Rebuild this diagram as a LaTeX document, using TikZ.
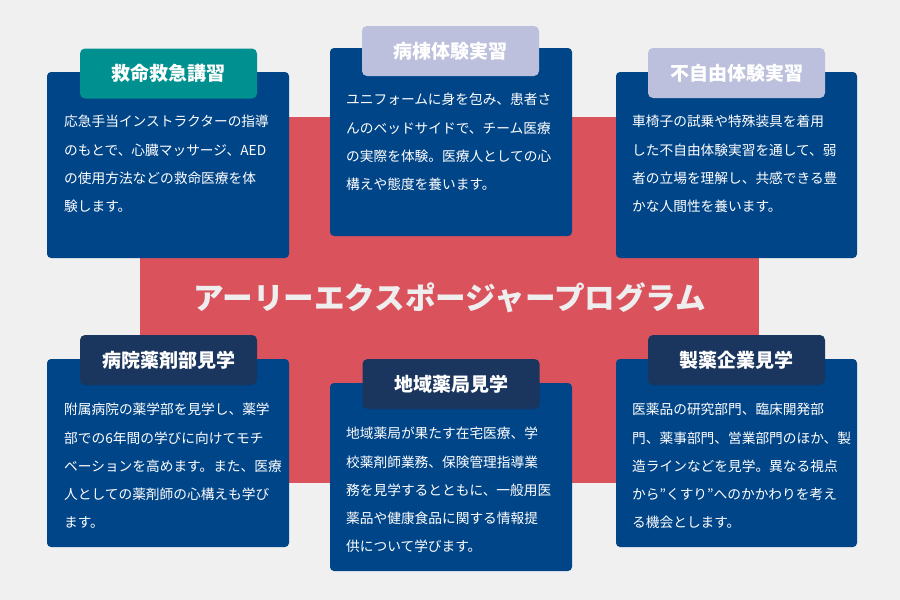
\documentclass[tikz,border=0pt]{standalone}
\usepackage{fontspec}
\setmainfont{Noto Sans CJK JP}
\definecolor{bgc}{RGB}{240,240,240}
\definecolor{redc}{RGB}{218,82,92}
\definecolor{cardc}{RGB}{0,69,136}
\definecolor{tealc}{RGB}{0,144,143}
\definecolor{lavc}{RGB}{188,192,220}
\definecolor{navyc}{RGB}{26,53,94}
\definecolor{titlec}{RGB}{238,238,238}
\tikzset{
  card/.style={fill=cardc, rounded corners=4pt, draw=none, minimum width=242pt, minimum height=188pt, inner sep=0pt},
  tabbox/.style={rounded corners=5pt, draw=none, minimum width=177pt, minimum height=50pt, inner sep=0pt, text=white, font=\fontsize{19}{19}\selectfont\bfseries},
  bodytext/.style={text=white, align=left, anchor=north west, inner sep=0pt, font=\fontsize{13.7}{28.3}\selectfont},
}
\begin{document}
\begin{tikzpicture}[x=1pt,y=-1pt]
\fill[bgc] (0,0) rectangle (900,600);
\useasboundingbox (0,0) rectangle (900,600);
\node[fill=redc, minimum width=619pt, minimum height=366pt, inner sep=0pt] (band) at (449.5,300) {};
\node[text=titlec, font=\fontsize{30.6}{30.6}\selectfont\bfseries, inner sep=0pt] (title) at (450,298) {アーリーエクスポージャープログラム};
% cards
\node[card, minimum height=186pt] (c1) at (168,165) {};
\node[card] (c2) at (451,142) {};
\node[card, minimum height=186pt, minimum width=241pt] (c3) at (736.5,165) {};
\node[card] (c4) at (168,453) {};
\node[card] (c5) at (451,477) {};
\node[card, minimum width=241pt] (c6) at (736.5,453) {};
% tabs
\node[tabbox, fill=tealc] (t1) at (168.5,73.5) {救命救急講習};
\node[tabbox, fill=lavc] (t2) at (450.5,51) {病棟体験実習};
\node[tabbox, fill=lavc] (t3) at (736.5,73) {不自由体験実習};
\node[tabbox, fill=navyc] (t4) at (168.5,360) {病院薬剤部見学};
\node[tabbox, fill=navyc] (t5) at (451,384) {地域薬局見学};
\node[tabbox, fill=navyc] (t6) at (736.5,360) {製薬企業見学};
% texts
\node[bodytext] (x1) at (64,115) {応急手当インストラクターの指導\\のもとで、心臓マッサージ、AED\\の使用方法などの救命医療を体\\験します。};
\node[bodytext] (x2) at (346,93) {ユニフォームに身を包み、患者さ\\んのベッドサイドで、チーム医療\\の実際を体験。医療人としての心\\構えや態度を養います。};
\node[bodytext] (x3) at (632,115) {車椅子の試乗や特殊装具を着用\\した不自由体験実習を通して、弱\\者の立場を理解し、共感できる豊\\かな人間性を養います。};
\node[bodytext] (x4) at (64,403) {附属病院の薬学部を見学し、薬学\\部での6年間の学びに向けてモチ\\ベーションを高めます。また、医療\\人としての薬剤師の心構えも学び\\ます。};
\node[bodytext] (x5) at (346,427) {地域薬局が果たす在宅医療、学\\校薬剤師業務、保険管理指導業\\務を見学するとともに、一般用医\\薬品や健康食品に関する情報提\\供について学びます。};
\node[bodytext] (x6) at (632,403) {医薬品の研究部門、臨床開発部\\門、薬事部門、営業部門のほか、製\\造ラインなどを見学。異なる視点\\から”くすり”へのかかわりを考え\\る機会とします。};
\end{tikzpicture}
\end{document}
